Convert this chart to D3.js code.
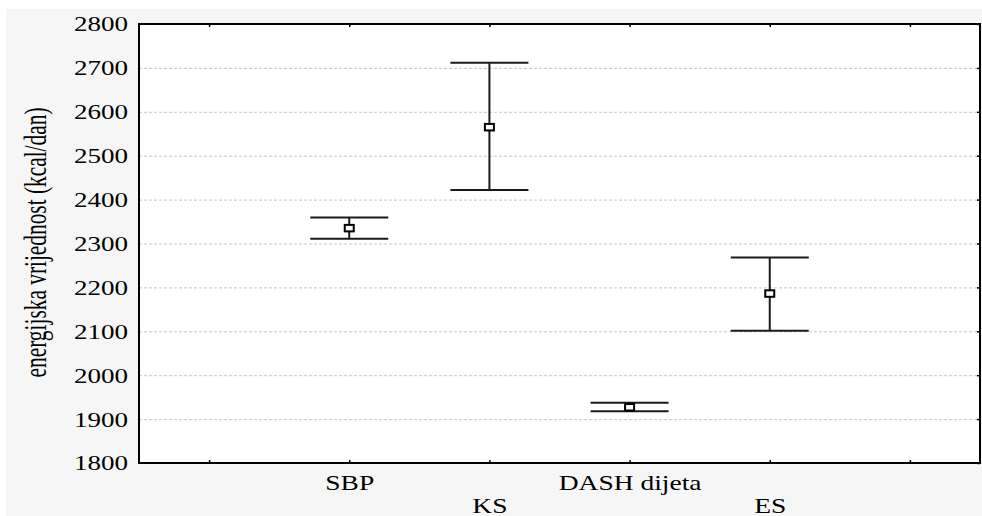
<!DOCTYPE html>
<html><head><meta charset="utf-8">
<script src="https://cdn.jsdelivr.net/npm/d3@7"></script>
<style>
html,body{margin:0;padding:0;background:#fff;}
svg{display:block;}
text{font-family:"Liberation Serif","Times New Roman",serif;fill:#000;}
</style></head>
<body>
<svg id="chart" width="982" height="516"></svg>
<script>
const categories = ["SBP", "KS", "DASH dijeta", "ES"];
const means = [2335, 2565, 1927, 2186];
const upper = [2359, 2712, 1937, 2268];
const lower = [2311, 2422, 1918, 2101];
const yTicks = [1800, 1900, 2000, 2100, 2200, 2300, 2400, 2500, 2600, 2700, 2800];
const yLabel = "energijska vrijednost (kcal/dan)";

const svg = d3.select("#chart");
const W = 982, H = 516;
const L = 139, R = 980, T = 24, B = 463;

svg.append("rect").attr("x", 6).attr("y", 9).attr("width", W - 6).attr("height", H - 9).attr("fill", "#f6f6f6");
svg.append("rect").attr("x", L).attr("y", T).attr("width", R - L).attr("height", B - T).attr("fill", "#fff");

const y = d3.scaleLinear().domain([1800, 2800]).range([B, T]);
const x = d3.scalePoint().domain(categories).range([L, R]).padding(1.5);
const xt = d3.scaleLinear().domain([0, 6]).range([L, R]);
const xTickVals = [0.5, 1.5, 2.5, 3.5, 4.5, 5.5];

// grid
const grid = svg.append("g").attr("transform", `translate(${L},0)`)
  .call(d3.axisLeft(y).tickValues(yTicks.slice(1, -1)).tickSize(-(R - L)).tickFormat(""));
grid.select(".domain").remove();
grid.selectAll("line").attr("stroke", "#c8c8c8").attr("stroke-width", 1).attr("stroke-dasharray", "3,2");

// y axis labels
const ya = svg.append("g").attr("transform", `translate(${L},0)`)
  .call(d3.axisLeft(y).tickValues(yTicks).tickSize(0).tickPadding(11).tickFormat(d3.format("d")));
ya.select(".domain").remove();
ya.selectAll("text").each(function() {
  const t = d3.select(this);
  const xx = +t.attr("x");
  t.attr("x", null).attr("dy", "0.34em")
   .attr("transform", `translate(${xx},0) scale(1.32,1)`)
   .style("font-size", "20.5px").attr("text-anchor", "end");
});

// right axis ticks inward
const yr = svg.append("g").attr("transform", `translate(${R},0)`)
  .call(d3.axisRight(y).tickValues(yTicks).tickSize(-3).tickFormat(""));
yr.select(".domain").remove();
yr.selectAll("line").attr("stroke", "#000").attr("stroke-width", 1.5);

// top axis ticks inward
const xtop = svg.append("g").attr("transform", `translate(0,${T})`)
  .call(d3.axisTop(xt).tickValues(xTickVals).tickSize(-3).tickFormat(""));
xtop.select(".domain").remove();
xtop.selectAll("line").attr("stroke", "#000").attr("stroke-width", 1.5);

// bottom axis ticks inward
const xb = svg.append("g").attr("transform", `translate(0,${B})`)
  .call(d3.axisBottom(xt).tickValues(xTickVals).tickSize(-3).tickFormat(""));
xb.select(".domain").remove();
xb.selectAll("line").attr("stroke", "#000").attr("stroke-width", 1.5);

// category labels, staggered
const xl = svg.append("g").attr("transform", `translate(0,${B})`)
  .call(d3.axisBottom(x).tickSize(0).tickPadding(0));
xl.select(".domain").remove();
xl.selectAll(".tick text").each(function(d, i) {
  const t = d3.select(this);
  t.attr("y", null).attr("dy", null)
   .attr("transform", `translate(0,${i % 2 === 0 ? 27 : 49.5}) scale(1.25,1)`)
   .style("font-size", "22px").attr("text-anchor", "middle");
});

// frame
svg.append("rect").attr("x", L).attr("y", T).attr("width", R - L).attr("height", B - T)
  .attr("fill", "none").attr("stroke", "#000").attr("stroke-width", 2);

// y label
svg.append("text")
  .attr("transform", `translate(46,242.5) scale(1.4,1) rotate(-90)`)
  .attr("text-anchor", "middle")
  .style("font-size", "22px")
  .attr("textLength", 270).attr("lengthAdjust", "spacingAndGlyphs")
  .text(yLabel);

// error bars
const half = 39;
const eb = svg.append("g");
categories.forEach((c, i) => {
  const cx = x(c);
  eb.append("line").attr("x1", cx).attr("x2", cx).attr("y1", y(upper[i])).attr("y2", y(lower[i]))
    .attr("stroke", "#1a1a1a").attr("stroke-width", 2);
  [upper[i], lower[i]].forEach(v => {
    eb.append("line").attr("x1", cx - half).attr("x2", cx + half).attr("y1", y(v)).attr("y2", y(v))
      .attr("stroke", "#1a1a1a").attr("stroke-width", 2);
  });
  eb.append("rect").attr("x", cx - 4.5).attr("y", y(means[i]) - 3.25).attr("width", 9).attr("height", 6.5)
    .attr("fill", "#fff").attr("stroke", "#000").attr("stroke-width", 2);
});
</script>
</body></html>
